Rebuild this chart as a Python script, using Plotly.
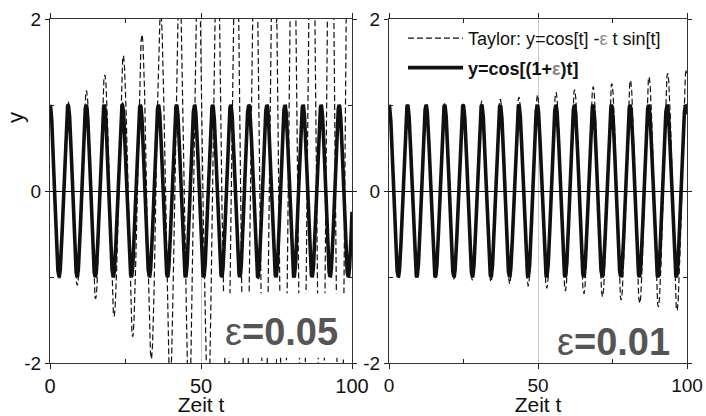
import numpy as np
import plotly.graph_objects as go

# Data: the two curves defined by the legend formulas, for two epsilon values
eps_values = [0.05, 0.01]
eps_labels = ["0.05", "0.01"]
t_start, t_end, n_samples = 0, 100, 4001
x_tickvals = [0, 50, 100]
x_ticktext = ["0", "50", "100"]
y_tickvals = [-2, 0, 2]
y_ticktext = ["-2", "0", "2"]

t = np.linspace(t_start, t_end, n_samples)

FONT = "Liberation Sans, Arial, sans-serif"
EPS_GRAY = "#888888"

fig = go.Figure()

legend_taylor = ("Taylor: y=cos[t] -<span style='color:%s'>ε</span> t sin[t]" % EPS_GRAY)
legend_exact = ("<b>y=cos[(1+<span style='color:%s'>ε</span>)t]</b>" % EPS_GRAY)

for i, eps in enumerate(eps_values):
    xa = "x" if i == 0 else "x2"
    ya = "y" if i == 0 else "y2"
    taylor = np.cos(t) - eps * t * np.sin(t)
    exact = np.cos((1 + eps) * t)
    fig.add_trace(go.Scatter(
        x=t, y=exact, mode="lines", xaxis=xa, yaxis=ya,
        line=dict(color="#111111", width=3.6),
        name=legend_exact, showlegend=(i == 1), legendrank=2, legendgroup="exact",
    ))
    fig.add_trace(go.Scatter(
        x=t, y=taylor, mode="lines", xaxis=xa, yaxis=ya,
        line=dict(color="#111111", width=1.2, dash="6px,3px"),
        name=legend_taylor, showlegend=(i == 1), legendrank=1, legendgroup="taylor",
    ))

axis_common = dict(
    range=[0, 100], tickvals=x_tickvals, ticktext=x_ticktext,
    ticks="outside", ticklen=5, tickcolor="#222", tickwidth=1,
    minor=dict(tickvals=[25, 75], ticks="inside", ticklen=4, tickcolor="#222"),
    showline=True, linecolor="#333", linewidth=1, mirror="ticks",
    showgrid=True, gridcolor="#c8c8c8", gridwidth=1,
    zeroline=False, automargin=False, ticklabeloverflow="allow",
    tickfont=dict(family=FONT, size=20, color="#111"),
    title=dict(text="Zeit t", font=dict(family=FONT, size=21, color="#111"), standoff=5),
)
yaxis_common = dict(
    range=[-2, 2], tickvals=y_tickvals, ticktext=y_ticktext,
    ticks="outside", ticklen=4, tickcolor="#222",
    minor=dict(tickvals=[-1, 1], ticks="inside", ticklen=4, tickcolor="#222"),
    showline=True, linecolor="#333", linewidth=1, mirror="ticks",
    showgrid=False, automargin=False, ticklabeloverflow="allow",
    zeroline=True, zerolinecolor="#000", zerolinewidth=1,
    tickfont=dict(family=FONT, size=19, color="#111"),
)

W, H = 706, 416
xaxis2 = dict(axis_common)
xaxis2["tickfont"] = dict(family=FONT, size=19, color="#111")

fig.update_layout(
    width=W, height=H,
    margin=dict(l=0, r=0, t=0, b=0, autoexpand=False),
    paper_bgcolor="white", plot_bgcolor="white",
    font=dict(family=FONT, color="#111"),
    xaxis=dict(domain=[50 / W, 352 / W], anchor="y", **axis_common),
    yaxis=dict(domain=[53 / H, 397 / H], anchor="x", **yaxis_common),
    xaxis2=dict(domain=[389 / W, 687 / W], anchor="y2", **xaxis2),
    yaxis2=dict(domain=[53 / H, 397 / H], anchor="x2", **yaxis_common),
    showlegend=True,
    legend=dict(
        x=403 / W, y=1 - 20 / H, xanchor="left", yanchor="top",
        bgcolor="rgba(0,0,0,0)", borderwidth=0,
        font=dict(family=FONT, size=18, color="#111"),
        itemwidth=55, traceorder="grouped", tracegroupgap=3,
    ),
)

# white box behind the epsilon label in the left panel
fig.add_shape(type="rect", xref="x", yref="y", x0=54.5, x1=99.6, y0=-1.94, y1=-1.19,
              fillcolor="white", line=dict(width=0), layer="above")

# epsilon labels
for i, (lab, pos) in enumerate(zip(eps_labels, [(76.8, -1.64), (75.5, -1.76)])):
    fig.add_annotation(
        xref="x" if i == 0 else "x2", yref="y" if i == 0 else "y2",
        x=pos[0], y=pos[1], showarrow=False, xanchor="center", yanchor="middle",
        text="<span style='font-weight:normal'>ε</span><b>=%s</b>" % lab,
        font=dict(family=FONT, size=38, color="#555555"),
    )

# y axis label
fig.add_annotation(xref="paper", yref="paper", x=15 / W, y=1 - 118 / H,
                   xanchor="center", yanchor="middle",
                   text="y", textangle=-90, showarrow=False,
                   font=dict(family=FONT, size=22, color="#111"))

fig.write_html("out.html", config={"displayModeBar": False},
               post_script="document.body.style.margin='0';")
